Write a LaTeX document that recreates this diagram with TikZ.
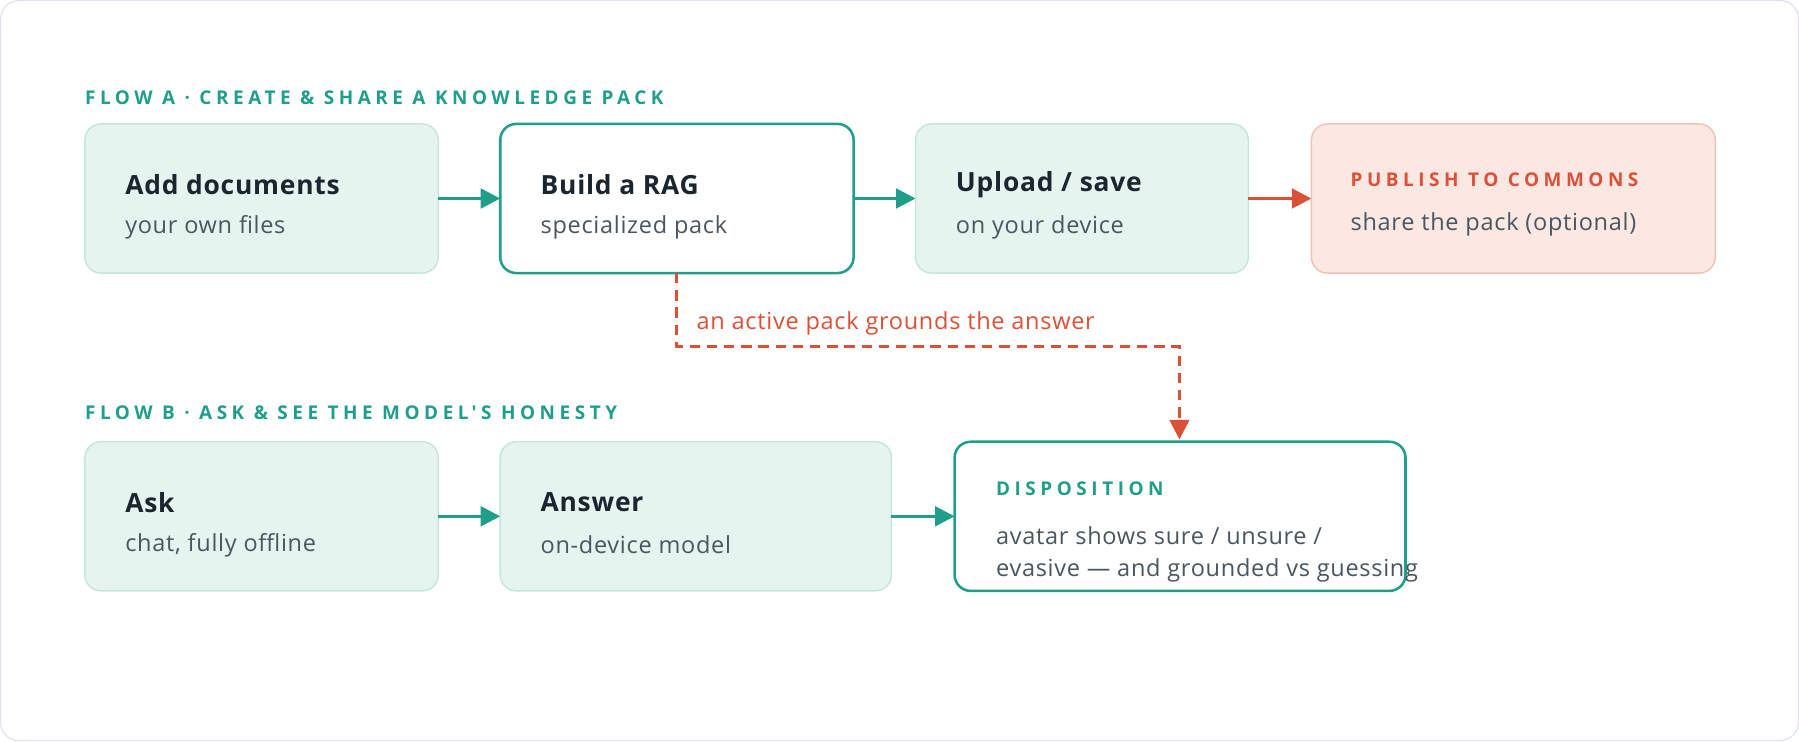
\documentclass[tikz,border=0pt]{standalone}
\usepackage{fontspec}
\setmainfont[LetterSpace=3]{Open Sans}
\newfontfamily\capsfont[LetterSpace=24]{Open Sans}
\usetikzlibrary{arrows.meta}
\definecolor{teal}{HTML}{1F9E89}
\definecolor{lgfill}{HTML}{E6F4F0}
\definecolor{lgdraw}{HTML}{C5E6DC}
\definecolor{rfill}{HTML}{FBE8E3}
\definecolor{rdraw}{HTML}{F1C3B6}
\definecolor{redc}{HTML}{DC5038}
\definecolor{dark}{HTML}{1A2530}
\definecolor{grey}{HTML}{4A5660}
\definecolor{frame}{HTML}{E6DDEE}
\tikzset{
 x=1pt,y=-1pt,
 soft/.style={draw=lgdraw,fill=lgfill,line width=1.3pt,rounded corners=14pt},
 strong/.style={draw=teal,fill=white,line width=2.2pt,rounded corners=14pt},
 pub/.style={draw=rdraw,fill=rfill,line width=1.3pt,rounded corners=14pt},
 ttl/.style={anchor=west,inner sep=0,font=\fontsize{23}{27}\selectfont\bfseries,text=dark},
 sub/.style={anchor=west,inner sep=0,font=\fontsize{20.5}{24}\selectfont,text=grey},
 caps/.style={anchor=west,inner sep=0,font=\capsfont\fontsize{16.5}{20}\selectfont\bfseries,text=teal},
 tarr/.style={draw=teal,line width=3pt,-{Triangle[length=17pt,width=17pt]}},
 rarr/.style={draw=redc,line width=3pt,-{Triangle[length=17pt,width=17pt]}},
}
\begin{document}
\begin{tikzpicture}
\useasboundingbox (0,0) rectangle (1568,646);
\draw[frame,line width=1pt,rounded corners=16pt] (0.5,0.5) rectangle (1567.5,645.5);
\node[caps] (ha) at (74,85) {FLOW A · CREATE \& SHARE A KNOWLEDGE PACK};
\node[caps] (hb) at (74,360) {FLOW B · ASK \& SEE THE MODEL'S HONESTY};
% flow A
\draw[soft] (74,108) rectangle (382,238);
\draw[strong] (436,108) rectangle (744,238);
\draw[soft] (798,108) rectangle (1088,238);
\draw[pub] (1143,108) rectangle (1495,238);
\coordinate (a1e) at (382,173); \coordinate (a2w) at (436,173);
\coordinate (a2e) at (744,173); \coordinate (a3w) at (798,173);
\coordinate (a3e) at (1088,173); \coordinate (a4w) at (1143,173);
\node[ttl] (t1) at (109,161) {Add documents};
\node[sub] (s1) at (109,198) {your own files};
\node[ttl] (t2) at (471,161) {Build a RAG};
\node[sub] (s2) at (471,198) {specialized pack};
\node[ttl] (t3) at (833,161) {Upload / save};
\node[sub] (s3) at (833,198) {on your device};
\node[caps,text=redc] (t4) at (1177,157) {PUBLISH TO COMMONS};
\node[sub] (s4) at (1177,196) {share the pack (optional)};
\draw[tarr] (a1e) -- (a2w);
\draw[tarr] (a2e) -- (a3w);
\draw[rarr] (a3e) -- (a4w);
% flow B
\draw[soft] (74,385) rectangle (382,515);
\draw[soft] (436,385) rectangle (777,515);
\draw[strong] (832,385) rectangle (1225,515);
\coordinate (b1e) at (382,450); \coordinate (b2w) at (436,450);
\coordinate (b2e) at (777,450); \coordinate (b3w) at (832,450);
\node[ttl] (u1) at (109,438) {Ask};
\node[sub] (v1) at (109,475) {chat, fully offline};
\node[ttl] (u2) at (471,438) {Answer};
\node[sub] (v2) at (471,475) {on-device model};
\node[caps] (u3) at (868,426) {DISPOSITION};
\node[sub] (v3) at (868,467) {avatar shows sure / unsure /};
\node[sub] (w3) at (868,497) {evasive — and grounded vs guessing};
\draw[tarr] (b1e) -- (b2w);
\draw[tarr] (b2e) -- (b3w);
% dashed link
\coordinate (d0) at (590,238); \coordinate (d1) at (1028,383);
\draw[redc,line width=2.6pt,dash pattern=on 9pt off 6pt,-{Triangle[length=17pt,width=17pt]}] (d0) -- (590,302) -- (1028,302) -- (d1);
\node[sub,text=redc] (lab) at (607,282) {an active pack grounds the answer};
\end{tikzpicture}
\end{document}
